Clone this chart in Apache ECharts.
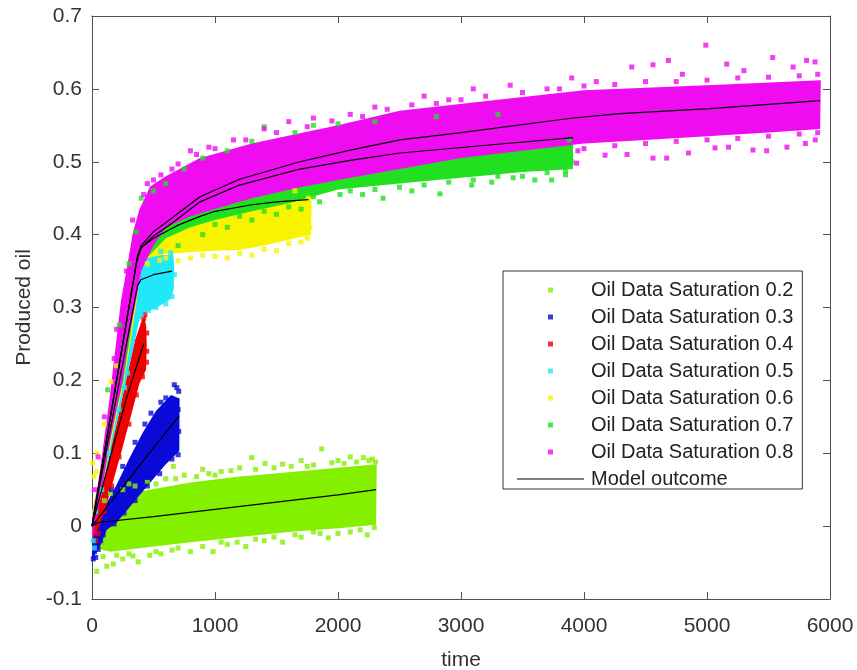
<!DOCTYPE html>
<html><head><meta charset="utf-8">
<script src="https://cdn.jsdelivr.net/npm/echarts@6/dist/echarts.min.js"></script>
<style>html,body{margin:0;padding:0;background:#fff}#c{width:857px;height:670px}</style>
</head><body><div id="c"></div><script>
// ---------------- data ----------------
const seriesNames = ['Oil Data Saturation 0.2','Oil Data Saturation 0.3','Oil Data Saturation 0.4','Oil Data Saturation 0.5','Oil Data Saturation 0.6','Oil Data Saturation 0.7','Oil Data Saturation 0.8'];
const modelName = 'Model outcome';
const xTicks = [0,1000,2000,3000,4000,5000,6000];
const yTicks = [-0.1,0,0.1,0.2,0.3,0.4,0.5,0.6,0.7];

// outlines of the dense point clouds [time, produced oil]
const cloud02 = [[20,-0.03],[150,-0.035],[400,-0.03],[800,-0.022],[1200,-0.015],[1600,-0.008],[2000,-0.003],[2310,0.002],[2315,0.085],[2000,0.08],[1600,0.074],[1200,0.068],[800,0.06],[400,0.048],[200,0.036],[80,0.022],[20,0.01]];
const cloud03 = [[0,-0.045],[60,-0.03],[120,-0.005],[195,0.004],[300,0.025],[400,0.045],[500,0.065],[600,0.085],[710,0.103],[712,0.175],[642,0.18],[520,0.158],[412,0.128],[304,0.093],[195,0.055],[114,0.03],[40,0.01],[0,0.0]];
const cloud04 = [[0,-0.02],[60,0.0],[138,0.041],[250,0.109],[330,0.16],[384,0.195],[440,0.215],[445,0.25],[440,0.275],[425,0.287],[400,0.28],[350,0.255],[276,0.2],[200,0.14],[154,0.109],[73,0.041],[20,0.005],[0,0.0]];
const cloud05 = [[0,-0.015],[73,0.041],[154,0.105],[276,0.198],[350,0.255],[380,0.28],[420,0.292],[500,0.298],[580,0.305],[640,0.312],[665,0.325],[668,0.36],[660,0.372],[600,0.372],[500,0.372],[420,0.375],[380,0.37],[330,0.32],[250,0.24],[150,0.14],[60,0.05],[0,0.005]];
const cloud06 = [[0,-0.01],[70,0.04],[160,0.12],[262,0.2],[320,0.26],[365,0.31],[390,0.35],[450,0.368],[600,0.373],[800,0.376],[1000,0.378],[1200,0.379],[1400,0.385],[1600,0.393],[1780,0.4],[1785,0.44],[1775,0.462],[1500,0.455],[1200,0.445],[900,0.43],[600,0.41],[450,0.395],[380,0.39],[320,0.33],[230,0.25],[130,0.15],[50,0.06],[0,0.02]];
const cloud07 = [[0,-0.01],[70,0.04],[160,0.13],[255,0.2],[310,0.26],[360,0.32],[400,0.36],[600,0.395],[800,0.41],[1000,0.42],[1300,0.432],[1600,0.443],[2000,0.462],[2500,0.47],[3000,0.478],[3500,0.486],[3910,0.49],[3912,0.525],[3500,0.555],[3000,0.55],[2500,0.54],[2000,0.53],[1500,0.515],[1000,0.49],[700,0.46],[450,0.43],[380,0.42],[331,0.39],[236,0.29],[141,0.16],[60,0.06],[0,0.005]];
const cloud08 = [[0,-0.02],[60,0.03],[150,0.12],[249,0.2],[300,0.26],[358,0.31],[400,0.35],[500,0.385],[600,0.41],[800,0.425],[1000,0.435],[1300,0.45],[1691,0.465],[2000,0.475],[2500,0.49],[3000,0.505],[3500,0.515],[4000,0.525],[4500,0.53],[5000,0.535],[5500,0.54],[5920,0.545],[5925,0.612],[5000,0.605],[4000,0.598],[3300,0.585],[2500,0.57],[2000,0.55],[1691,0.539],[1300,0.525],[878,0.505],[600,0.48],[472,0.466],[385,0.434],[331,0.402],[290,0.36],[236,0.31],[141,0.173],[60,0.07],[0,0.01]];

// loose points around the clouds [time, produced oil]
const pts02 = [[38,-0.062],[120,-0.055],[173,-0.052],[250,-0.045],[333,-0.041],[376,-0.049],[470,-0.04],[560,-0.038],[700,-0.03],[800,-0.035],[984,-0.035],[1100,-0.025],[1250,-0.028],[1400,-0.02],[1550,-0.022],[1700,-0.015],[1854,-0.01],[1921,-0.016],[2100,-0.008],[2238,-0.012],[2295,-0.002],[150,0.045],[300,0.058],[450,0.06],[661,0.082],[750,0.07],[900,0.078],[1050,0.075],[1200,0.08],[1298,0.094],[1407,0.086],[1550,0.085],[1700,0.09],[1867,0.106],[2000,0.09],[2100,0.095],[2206,0.094],[2279,0.092],[2305,0.088],[600,0.065],[1000,0.07],[1750,0.082],[2150,0.088],
  [100,0.035],[250,0.05],[350,0.055],[520,0.058],[680,0.065],[850,0.068],[950,0.072],[1130,0.076],[1330,0.078],[1480,0.08],[1620,0.082],[1800,0.084],[1950,0.087],[2050,0.086],[2250,0.09],
  [90,-0.042],[200,-0.04],[300,-0.038],[520,-0.035],[650,-0.033],[900,-0.028],[1050,-0.022],[1180,-0.022],[1330,-0.018],[1480,-0.015],[1650,-0.012],[1800,-0.008],[2000,-0.01],[2180,-0.005]];
const pts03 = [[10,-0.045],[30,-0.043],[50,-0.032],[70,-0.02],[20,-0.035],[90,-0.012],[690,0.19],[669,0.194],[600,0.176],[560,0.17],[480,0.155],[430,0.14],[350,0.115],[250,0.082],[160,0.05],[700,0.098],[650,0.092],[550,0.072],[450,0.055],[350,0.035],[260,0.018],[180,0.003],[705,0.13],[700,0.16],[705,0.185]];
const pts04 = [[430,0.29],[420,0.285],[445,0.24],[443,0.225],[410,0.205],[360,0.18],[300,0.14],[220,0.095],[160,0.055],[100,0.02],[50,-0.01],[30,-0.02],[445,0.265]];
const pts05 = [[370,0.285],[400,0.29],[460,0.296],[520,0.3],[600,0.305],[650,0.315],[670,0.345],[640,0.375],[560,0.377],[290,0.21],[265,0.19],[220,0.16],[140,0.1],[80,0.05],[30,0.02],[10,-0.02],[20,-0.03]];
const pts06 = [[700,0.364],[800,0.368],[1000,0.37],[1100,0.368],[1300,0.372],[1500,0.378],[1700,0.39],[1770,0.41],[1760,0.45],[1650,0.46],[5,0.087],[15,0.068],[33,0.075],[40,0.1],[154,0.198],[100,0.14],[200,0.22],[450,0.36],[550,0.365],
  [600,0.368],[900,0.372],[1200,0.374],[1400,0.38],[1600,0.388],[1750,0.395]];
const pts07 = [[127,0.187],[222,0.276],[300,0.36],[358,0.404],[400,0.45],[500,0.46],[600,0.47],[750,0.49],[900,0.505],[1100,0.515],[1300,0.528],[1400,0.548],[1650,0.54],[1800,0.55],[2000,0.552],[2300,0.555],[2800,0.562],[3300,0.565],[700,0.385],[900,0.4],[1100,0.41],[1300,0.42],[1500,0.428],[1700,0.435],[1850,0.445],[2016,0.455],[2200,0.455],[2366,0.45],[2600,0.46],[2829,0.456],[3087,0.468],[3250,0.472],[3424,0.478],[3600,0.475],[3737,0.475],[3850,0.482],[3900,0.5],[3890,0.515],[3880,0.53],
  [1000,0.414],[1200,0.425],[1400,0.432],[1600,0.438],[1800,0.452],[2100,0.46],[2300,0.462],[2500,0.465],[2700,0.468],[2900,0.472],[3100,0.475],[3300,0.48],[3500,0.48],[3700,0.485],[3850,0.487]];
const pts08 = [[420,0.455],[500,0.475],[650,0.49],[800,0.515],[950,0.52],[1150,0.53],[1400,0.545],[1600,0.555],[1800,0.56],[2100,0.565],[2300,0.575],[2700,0.59],[2900,0.585],[3100,0.6],[3400,0.605],[3700,0.6],[3900,0.615],[4100,0.61],[4388,0.63],[4561,0.633],[4686,0.639],[4800,0.62],[4990,0.66],[5160,0.634],[5300,0.625],[5534,0.643],[5700,0.63],[5810,0.639],[5878,0.637],[3940,0.498],[4171,0.509],[4350,0.51],[4561,0.505],[4672,0.505],[4850,0.512],[5065,0.519],[5175,0.52],[5374,0.516],[5485,0.515],[5650,0.52],[5800,0.525],[5880,0.53],[20,0.05],[50,0.095],[100,0.15],[180,0.23],[200,0.27],[280,0.35],[330,0.42],
  [450,0.47],[560,0.482],[700,0.497],[850,0.51],[1000,0.518],[1250,0.53],[1500,0.54],[1750,0.548],[1950,0.556],[2200,0.562],[2400,0.572],[2600,0.578],[2800,0.58],[3000,0.585],[3200,0.59],[3500,0.595],[3800,0.6],[4000,0.604],[4250,0.606],[4500,0.61],[4750,0.61],[5000,0.612],[5250,0.615],[5500,0.616],[5750,0.618],[5900,0.62],
  [3950,0.515],[4000,0.518],[4250,0.522],[4500,0.525],[4750,0.528],[5000,0.53],[5250,0.532],[5500,0.535],[5750,0.538],[5900,0.54]];

// model curves [time, produced oil]
const model02 = [[0,0],[50,0.005],[500,0.013],[1000,0.023],[1500,0.033],[2000,0.043],[2310,0.05]];
const model03 = [[0,0],[200,0.043],[400,0.086],[707,0.151]];
const model04 = [[0,0],[150,0.095],[276,0.173],[420,0.25]];
const model05 = [[0,0],[370,0.33],[398,0.338],[500,0.345],[650,0.35]];
const model06 = [[0,0],[360,0.36],[398,0.382],[500,0.395],[577,0.402],[700,0.413],[878,0.425],[1000,0.432],[1300,0.441],[1500,0.445],[1760,0.448]];
const model07 = [[0,0],[370,0.37],[400,0.382],[500,0.398],[628,0.413],[878,0.445],[1200,0.468],[1691,0.49],[2100,0.502],[2504,0.512],[3300,0.524],[3911,0.533]];
const model08 = [[0,0],[370,0.37],[400,0.385],[500,0.404],[628,0.42],[878,0.452],[1200,0.476],[1691,0.5],[2100,0.516],[2504,0.53],[3000,0.54],[3911,0.56],[4293,0.566],[5024,0.573],[5919,0.584]];

// ---------------- styling & assembly ----------------
const colors = ['#84f000','#0a0ad8','#f00000','#20e8f8','#f8f400','#20e020','#f00cf0'];
const clouds = [cloud02,cloud03,cloud04,cloud05,cloud06,cloud07,cloud08];
const points = [pts02,pts03,pts04,pts05,pts06,pts07,pts08];
const models = [model02,model03,model04,model05,model06,model07,model08];
const FONT = '"Liberation Sans", Arial, Helvetica, sans-serif';

const series = [];
seriesNames.forEach(function (name, i) {
  const poly = clouds[i];
  series.push({
    type: 'custom', name: 'cloud' + i, coordinateSystem: 'cartesian2d',
    data: [poly[0]], silent: true, clip: true,
    renderItem: function (params, api) {
      return { type: 'polygon', shape: { points: poly.map(function (p) { return api.coord(p); }) },
               style: { fill: colors[i] } };
    }
  });
  series.push({
    type: 'scatter', name: name, data: points[i], symbol: 'rect', symbolSize: 5,
    itemStyle: { color: colors[i] }, silent: true
  });
});
models.forEach(function (m) {
  series.push({
    type: 'line', name: modelName, data: m, symbol: 'none', showSymbol: false,
    smooth: false, z: 5,
    lineStyle: { color: '#000', width: 1.2 }, itemStyle: { color: '#000' }, silent: true
  });
});

const axisCol = '#505050';
const sq = 'path://M0,0L10,0L10,10L0,10Z';
const legendData = seriesNames.map(function (n) { return { name: n, icon: sq }; });
legendData.push({ name: modelName, icon: 'path://M0,0L67,0L67,1.2L0,1.2Z', itemStyle: { color: '#000' } });

const fmtY = function (v) { return String(Number(v.toFixed(1))); };
const fmtX = function (v) { return String(Math.round(v)); };

const option = {
  animation: false,
  backgroundColor: '#fff',
  grid: { left: 92, right: 27, top: 16, bottom: 71, containLabel: false, outerBoundsMode: 'none' },
  legend: {
    data: legendData, orient: 'vertical', left: 503, top: 271,
    padding: [9, 9, 0, 14], itemGap: 7, itemWidth: 67, itemHeight: 5,
    backgroundColor: '#fff', borderColor: '#333', borderWidth: 1, borderRadius: 0,
    selectedMode: false,
    textStyle: { fontSize: 20, color: '#222', fontFamily: FONT, lineHeight: 20, padding: [0, 0, 0, 2] }
  },
  xAxis: [{
    type: 'value', min: xTicks[0], max: xTicks[xTicks.length - 1], interval: 1000, position: 'bottom',
    axisLine: { show: true, onZero: false, lineStyle: { color: axisCol, width: 1 } },
    axisTick: { show: true, inside: true, length: 7, lineStyle: { color: axisCol } },
    axisLabel: { fontSize: 21, color: '#333', fontFamily: FONT, margin: 17, formatter: fmtX },
    splitLine: { show: false },
    name: 'time', nameLocation: 'middle', nameGap: 51,
    nameTextStyle: { fontSize: 21, color: '#333', fontFamily: FONT }
  }, {
    type: 'value', min: xTicks[0], max: xTicks[xTicks.length - 1], interval: 1000, position: 'top',
    axisLine: { show: true, onZero: false, lineStyle: { color: axisCol, width: 1 } },
    axisTick: { show: true, inside: true, length: 7, lineStyle: { color: axisCol } },
    axisLabel: { show: false }, splitLine: { show: false }
  }],
  yAxis: [{
    type: 'value', min: yTicks[0], max: yTicks[yTicks.length - 1], interval: 0.1, position: 'left',
    axisLine: { show: true, onZero: false, lineStyle: { color: axisCol, width: 1 } },
    axisTick: { show: true, inside: true, length: 7, lineStyle: { color: axisCol } },
    axisLabel: { fontSize: 21, color: '#333', fontFamily: FONT, margin: 10, formatter: fmtY },
    splitLine: { show: false },
    name: 'Produced oil', nameLocation: 'middle', nameGap: 57,
    nameTextStyle: { fontSize: 21, color: '#333', fontFamily: FONT }
  }, {
    type: 'value', min: yTicks[0], max: yTicks[yTicks.length - 1], interval: 0.1, position: 'right',
    axisLine: { show: true, onZero: false, lineStyle: { color: axisCol, width: 1 } },
    axisTick: { show: true, inside: true, length: 7, lineStyle: { color: axisCol } },
    axisLabel: { show: false }, splitLine: { show: false }
  }],
  series: series
};
const chart = echarts.init(document.getElementById('c'), null, { renderer: 'canvas' });
chart.setOption(option);
</script></body></html>
